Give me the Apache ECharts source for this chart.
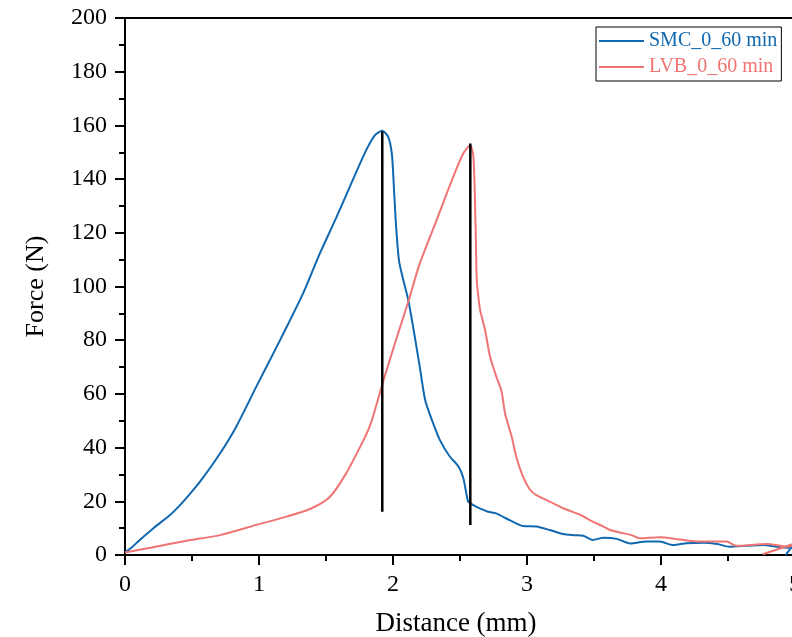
<!DOCTYPE html>
<html>
<head>
<meta charset="utf-8">
<script src="https://cdn.jsdelivr.net/npm/echarts@6/dist/echarts.min.js"></script>
<style>
  html, body { margin: 0; padding: 0; background: #fff; }
  #root { width: 792px; height: 637px; }
</style>
</head>
<body>
<div id="root"></div>
<script>
// series names
const seriesNames = ['SMC_0_60 min', 'LVB_0_60 min']

// [distance mm, force N]
const smcData = [
  [0, 1], [0.05, 2.8], [0.11, 5.6], [0.21, 9.9], [0.336, 14.9], [0.40, 18], [0.48, 22.5],
  [0.56, 27.3], [0.71, 37.9], [0.83, 47.8], [0.98, 62.7], [1.107, 75.1], [1.207, 85],
  [1.33, 97.5], [1.455, 112.4], [1.58, 126], [1.70, 139.7], [1.80, 150.8], [1.866, 156.4],
  [1.92, 158], [1.965, 155.6], [1.99, 150], [2.0, 143.4], [2.02, 124.8], [2.045, 109.5],
  [2.077, 102.4], [2.114, 95], [2.15, 85], [2.2, 70], [2.24, 57.7], [2.29, 50.3],
  [2.35, 42.8], [2.425, 36.6], [2.49, 32.9], [2.525, 28.6], [2.56, 19.9], [2.575, 19.3],
  [2.62, 18], [2.71, 16.1], [2.77, 15.5], [2.87, 13], [2.97, 10.8], [3.07, 10.6],
  [3.17, 9.3], [3.27, 7.8], [3.35, 7.4], [3.42, 7.2], [3.49, 5.6], [3.57, 6.4], [3.67, 6.0],
  [3.77, 4.3], [3.89, 5.0], [3.99, 5.0], [4.09, 3.7], [4.19, 4.4], [4.32, 4.6], [4.42, 4.1],
  [4.51, 3.1], [4.64, 3.4], [4.76, 3.7], [4.89, 2.9], [5.05, 2.5], [5.05, 8], [4.93, 0]
]
const lvbData = [
  [0, 0.9], [0.2, 2.8], [0.46, 5.3], [0.71, 7.4], [1.0, 11.5], [1.207, 14.3], [1.393, 17.4],
  [1.53, 21.7], [1.65, 30.4], [1.78, 42.8], [1.83, 48.4], [1.88, 56.5], [1.93, 65.2],
  [2.03, 81.3], [2.114, 94.3], [2.2, 108.6], [2.326, 124.8], [2.45, 140.9], [2.525, 149.6],
  [2.575, 152.5], [2.6, 148.5], [2.617, 121], [2.625, 102.4], [2.64, 95], [2.65, 91.2],
  [2.687, 83.8], [2.724, 73.9], [2.774, 66], [2.81, 61], [2.836, 52.8], [2.886, 44],
  [2.92, 36.6], [2.97, 29.2], [3.02, 24.5], [3.07, 22.3], [3.17, 19.9], [3.27, 17.4],
  [3.4, 14.9], [3.49, 12.4], [3.57, 10.6], [3.62, 9.3], [3.69, 8.4], [3.78, 7.4], [3.84, 6.2],
  [3.99, 6.6], [4.14, 5.8], [4.29, 5.0], [4.49, 5.0], [4.56, 3.4], [4.79, 4.1], [4.94, 3.1],
  [5.1, 6], [4.76, 0.3]
]

// black markers at the peaks
const smcPeakLine = [[1.92, 16.1], [1.92, 157.7]]
const lvbPeakLine = [[2.577, 11.2], [2.577, 153.3]]

const blue = '#1068b0'
const red = '#f07474'
const font = 'Liberation Serif'

const chart = echarts.init(document.getElementById('root'))

const option = {
  animation: false,
  textStyle: { fontFamily: font },
  // plot runs past the right edge of the picture, like the source
  grid: { left: 125, right: -3, top: 18, bottom: 82, outerBoundsMode: 'none', containLabel: false },
  legend: {
    left: 596, top: 27,
    orient: 'vertical',
    borderColor: '#000', borderWidth: 1, borderRadius: 0,
    padding: [4, 4, 4, 3],
    icon: 'rect',
    itemWidth: 45, itemHeight: 2, itemGap: 6,
    textStyle: { fontFamily: font, fontSize: 20, lineHeight: 20 },
    data: [
      { name: seriesNames[0], textStyle: { color: blue } },
      { name: seriesNames[1], textStyle: { color: red } }
    ]
  },
  xAxis: [
    {
      type: 'value', min: 0, max: 5, interval: 1,
      name: 'Distance (mm)', nameLocation: 'middle', nameGap: 55,
      nameTextStyle: { fontFamily: font, fontSize: 27, color: '#000', padding: [0, 8, 0, 0] },
      axisLine: { lineStyle: { color: '#000', width: 2 } },
      axisTick: { inside: false, length: 10, lineStyle: { width: 2 } },
      minorTick: { show: true, splitNumber: 2, length: 6, lineStyle: { color: '#000', width: 2 } },
      axisLabel: { fontFamily: font, fontSize: 24, color: '#000', margin: 18, showMaxLabel: true },
      splitLine: { show: false }
    },
    {
      // frame line on top
      type: 'value', position: 'top', min: 0, max: 5,
      axisLine: { show: true, onZero: false, lineStyle: { color: '#000', width: 2 } },
      axisTick: { show: false }, axisLabel: { show: false }, splitLine: { show: false }
    }
  ],
  yAxis: {
    type: 'value', min: 0, max: 200, interval: 20,
    name: 'Force (N)', nameLocation: 'middle', nameGap: 76,
    nameTextStyle: { fontFamily: font, fontSize: 26, color: '#000' },
    axisLine: { show: true, lineStyle: { color: '#000', width: 2 } },
    axisTick: { show: true, inside: false, length: 10, lineStyle: { width: 2 } },
    minorTick: { show: true, splitNumber: 2, length: 6, lineStyle: { color: '#000', width: 2 } },
    axisLabel: { fontFamily: font, fontSize: 24, color: '#000', margin: 18 },
    splitLine: { show: false }
  },
  series: [
    {
      name: seriesNames[0], type: 'line', data: smcData, symbol: 'none', smooth: 0.25,
      lineStyle: { color: blue, width: 2 }, itemStyle: { color: blue }
    },
    {
      name: seriesNames[1], type: 'line', data: lvbData, symbol: 'none', smooth: 0.25,
      lineStyle: { color: red, width: 2 }, itemStyle: { color: red }
    },
    {
      name: 'peak1', type: 'line', data: smcPeakLine, symbol: 'none', z: 3,
      lineStyle: { color: '#000', width: 2.5 }
    },
    {
      name: 'peak2', type: 'line', data: lvbPeakLine, symbol: 'none', z: 3,
      lineStyle: { color: '#000', width: 2.5 }
    }
  ]
}

chart.setOption(option)
</script>
</body>
</html>
